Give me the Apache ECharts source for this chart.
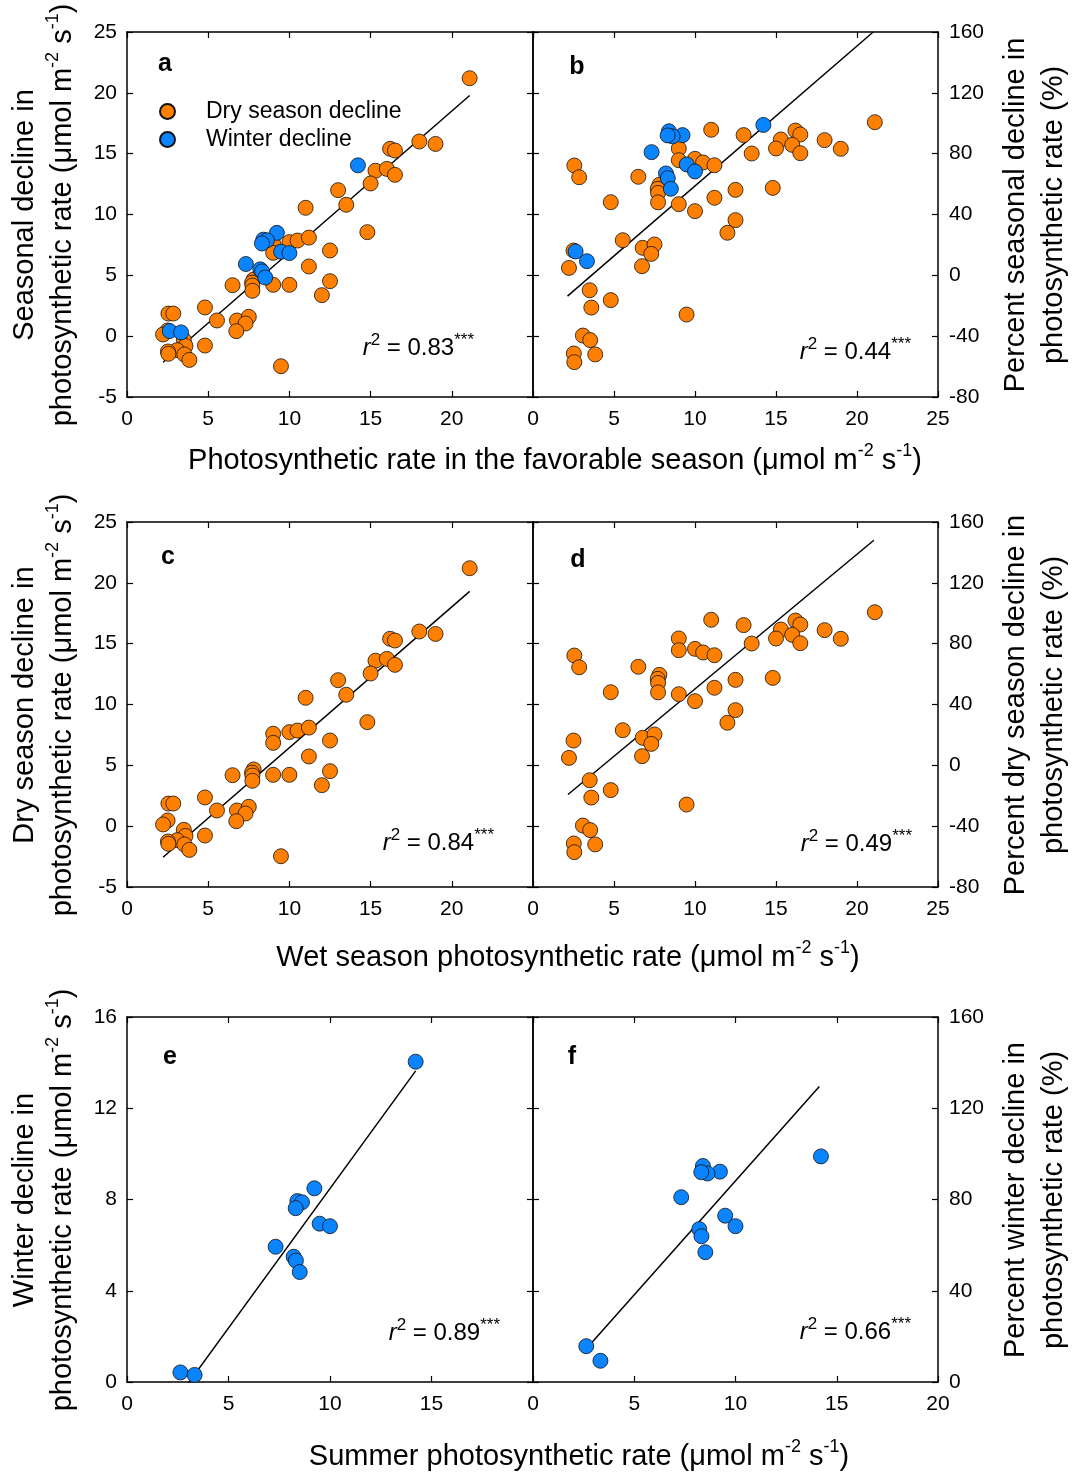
<!DOCTYPE html>
<html>
<head>
<meta charset="utf-8">
<script src="https://cdn.jsdelivr.net/npm/echarts@6/dist/echarts.min.js"></script>
<style>
  html, body { margin: 0; padding: 0; background: #fff; }
  #chart { width: 1084px; height: 1475px; }
</style>
</head>
<body>
<div id="chart"></div>
<script>
// dry season points (wet season rate, decline, percent decline)
var dryRate = [21.1, 18.0, 19.0, 16.2, 16.5, 15.3, 16.0, 16.5, 15.0, 13.0, 13.5, 11.0, 14.8,
  9.0, 9.0, 10.0, 10.5, 11.2, 12.5, 11.2, 12.5, 12.0, 10.0, 9.0, 6.5, 7.8, 7.7, 7.72, 7.72,
  4.8, 5.54, 6.77, 7.5, 7.3, 6.73, 2.55, 2.85, 2.5, 2.22, 3.5, 3.6, 4.8, 3.08, 3.53, 2.52,
  2.55, 3.84, 9.48];
var dryDecline = [21.2, 16.0, 15.8, 15.4, 15.26, 13.6, 13.75, 13.26, 12.55, 12.0, 10.8, 10.55, 8.55,
  7.6, 6.85, 7.73, 7.86, 8.1, 7.04, 5.73, 4.52, 3.37, 4.22, 4.22, 4.19, 4.66, 4.4, 4.16, 3.73,
  2.36, 1.29, 1.29, 1.59, 1.04, 0.41, 1.86, 1.86, 0.47, 0.14, -0.3, -0.8, -0.77, -1.15, -1.5, -1.26,
  -1.45, -1.95, -2.47];
var dryPercent = [100.7, 88.9, 83.2, 95.2, 92.6, 89.3, 85.8, 80.3, 83.4, 92.2, 80.1, 95.7, 57.5,
  83.4, 75.7, 76.6, 74.2, 72.4, 56.2, 51, 36.3, 28, 42.2, 46.8, 64.8, 59.5, 56.9, 54.2, 48,
  48.1, 23.1, 18.1, 20.3, 14.1, 6, 72.2, 64.5, 16.3, 4.9, -9.8, -21.2, -16.3, -39.6, -42.6, -51.4,
  -57.1, -52, -25.8];

// winter points (summer rate, decline, percent decline)
var winterRate = [14.22, 9.23, 8.39, 8.62, 8.31, 9.49, 10.0, 7.32, 8.21, 8.32, 8.51, 2.63, 3.33];
var winterDecline = [14.04, 8.49, 7.93, 7.88, 7.62, 6.94, 6.83, 5.93, 5.49, 5.32, 4.82, 0.42, 0.31];
var winterPercent = [98.9, 92.2, 94.7, 91.4, 92, 72.9, 68.3, 81, 67, 63.9, 56.9, 15.7, 9.3];

// fitted regression lines, [start, end] in data units
var fitA = [[2.22, -2.14], [21.1, 19.78]];
var fitB = [[2.13, -13.7], [21.0, 160]];
var fitC = [[2.22, -2.55], [21.1, 19.3]];
var fitD = [[2.16, -19.2], [21.04, 148]];
var fitE = [[2.63, -0.53], [14.22, 13.64]];
var fitF = [[2.6, 14.2], [14.14, 129.5]];

var r2Values = ["0.83", "0.44", "0.84", "0.49", "0.89", "0.66"];
var panelLetters = ["a", "b", "c", "d", "e", "f"];

// axis ranges [min, max, interval]
var xRangeTop = [0, 25, 5];
var xRangeBottom = [0, 20, 5];
var declineRange = [-5, 25, 5];
var winterDeclineRange = [0, 16, 4];
var percentRange = [-80, 160, 40];
var winterPercentRange = [0, 160, 40];

var FONT = '"Liberation Sans", Arial, sans-serif';
var ORANGE = "#ff8000";
var BLUE = "#0a84ff";

function zip(xs, ys) {
  return xs.map(function (x, i) {
    return [x, ys[i]];
  });
}

var grids = [
  { left: 127, top: 32, width: 406, height: 365 },
  { left: 533, top: 32, width: 405, height: 365 },
  { left: 127, top: 522, width: 406, height: 365 },
  { left: 533, top: 522, width: 405, height: 365 },
  { left: 127, top: 1017, width: 406, height: 365 },
  { left: 533, top: 1017, width: 405, height: 365 },
];
var xRanges = [xRangeTop, xRangeTop, xRangeTop, xRangeTop, xRangeBottom, xRangeBottom];
var yRanges = [declineRange, percentRange, declineRange, percentRange, winterDeclineRange, winterPercentRange];

var axisLine = { show: true, onZero: false, lineStyle: { color: "#000", width: 1.5 } };
var axisTick = { show: true, inside: true, length: 6, lineStyle: { color: "#000", width: 1.2 } };

var xAxes = [];
var yAxes = [];
grids.forEach(function (g, i) {
  var xr = xRanges[i];
  var yr = yRanges[i];
  var isLeft = i % 2 === 0;
  xAxes.push({
    type: "value", gridIndex: i, position: "bottom",
    min: xr[0], max: xr[1], interval: xr[2],
    axisLine: axisLine, axisTick: axisTick, splitLine: { show: false },
    axisLabel: {
      show: true, color: "#000", fontSize: 21, fontFamily: FONT, margin: 12,
      showMaxLabel: !isLeft,
    },
  });
  xAxes.push({
    type: "value", gridIndex: i, position: "top",
    min: xr[0], max: xr[1], interval: xr[2],
    axisLine: axisLine, axisTick: axisTick, splitLine: { show: false },
    axisLabel: { show: false },
  });
  yAxes.push({
    type: "value", gridIndex: i, position: "left",
    min: yr[0], max: yr[1], interval: yr[2],
    axisLine: axisLine, axisTick: axisTick, splitLine: { show: false },
    axisLabel: { show: isLeft, color: "#000", fontSize: 21, fontFamily: FONT, margin: 10 },
  });
  yAxes.push({
    type: "value", gridIndex: i, position: "right",
    min: yr[0], max: yr[1], interval: yr[2],
    axisLine: axisLine, axisTick: axisTick, splitLine: { show: false },
    axisLabel: { show: !isLeft, color: "#000", fontSize: 21, fontFamily: FONT, margin: 11 },
  });
});

function scatter(name, color, gi, data) {
  return {
    name: name, type: "scatter",
    xAxisIndex: gi * 2, yAxisIndex: gi * 2 + (gi % 2),
    data: data, symbol: "circle", symbolSize: 15,
    itemStyle: { color: color, borderColor: "#111", borderWidth: 0.8, opacity: 1 },
    emphasis: { disabled: true }, silent: true, z: color === BLUE ? 4 : 3,
  };
}

function fitLine(gi, data) {
  return {
    name: "fit" + gi, type: "line",
    xAxisIndex: gi * 2, yAxisIndex: gi * 2 + (gi % 2),
    data: data, symbol: "none", silent: true,
    lineStyle: { color: "#000", width: 1.5 }, z: 2,
  };
}

var series = [
  fitLine(0, fitA),
  scatter("Dry season decline", ORANGE, 0, zip(dryRate, dryDecline)),
  scatter("Winter decline", BLUE, 0, zip(winterRate, winterDecline)),
  fitLine(1, fitB),
  scatter("Dry season decline", ORANGE, 1, zip(dryRate, dryPercent)),
  scatter("Winter decline", BLUE, 1, zip(winterRate, winterPercent)),
  fitLine(2, fitC),
  scatter("Dry season decline", ORANGE, 2, zip(dryRate, dryDecline)),
  fitLine(3, fitD),
  scatter("Dry season decline", ORANGE, 3, zip(dryRate, dryPercent)),
  fitLine(4, fitE),
  scatter("Winter decline", BLUE, 4, zip(winterRate, winterDecline)),
  fitLine(5, fitF),
  scatter("Winter decline", BLUE, 5, zip(winterRate, winterPercent)),
];

var titleRich = {
  n: { fontFamily: FONT, fontSize: 29, lineHeight: 38, color: "#000" },
  s: { fontFamily: FONT, fontSize: 18, lineHeight: 22, verticalAlign: "top", color: "#000" },
};
var unit = "{n|(μmol m}{s|-2}{n| s}{s|-1}{n|)}";

function label(x, y, text, rotate) {
  return {
    type: "text", x: x, y: y, rotation: rotate ? Math.PI / 2 : 0, silent: true,
    style: { text: text, rich: titleRich, align: "center", verticalAlign: "middle" },
  };
}

var letterPos = [[165, 64], [577, 67], [168, 557], [578, 560], [170, 1057], [572, 1057]];
var r2Pos = [[474, 348], [911, 352], [494, 843], [912, 844], [500, 1333], [911, 1332]];
var r2Rich = {
  i: { fontFamily: FONT, fontSize: 24, fontStyle: "italic", lineHeight: 32, color: "#000" },
  n: { fontFamily: FONT, fontSize: 24, lineHeight: 32, color: "#000" },
  s: { fontFamily: FONT, fontSize: 17, lineHeight: 20, verticalAlign: "top", color: "#000" },
};

var graphics = [];
panelLetters.forEach(function (l, i) {
  graphics.push({
    type: "text", x: letterPos[i][0], y: letterPos[i][1], silent: true,
    style: {
      text: l, font: "bold 25px " + FONT, fill: "#000",
      align: "center", verticalAlign: "middle",
    },
  });
  graphics.push({
    type: "text", x: r2Pos[i][0], y: r2Pos[i][1], silent: true,
    style: {
      text: "{i|r}{s|2}{n| = " + r2Values[i] + "}{s|***}", rich: r2Rich,
      align: "right", verticalAlign: "middle",
    },
  });
});

graphics.push(label(555, 461, "{n|Photosynthetic rate in the favorable season }" + unit, false));
graphics.push(label(568, 958, "{n|Wet season photosynthetic rate }" + unit, false));
graphics.push(label(579, 1457, "{n|Summer photosynthetic rate }" + unit, false));

graphics.push(label(44, 215, "{n|Seasonal decline in}\n{n|photosynthetic rate }" + unit, true));
graphics.push(label(44, 705, "{n|Dry season decline in}\n{n|photosynthetic rate }" + unit, true));
graphics.push(label(44, 1200, "{n|Winter decline in}\n{n|photosynthetic rate }" + unit, true));

graphics.push(label(1035, 215, "{n|Percent seasonal decline in}\n{n|photosynthetic rate (%)}", true));
graphics.push(label(1035, 705, "{n|Percent dry season decline in}\n{n|photosynthetic rate (%)}", true));
graphics.push(label(1035, 1200, "{n|Percent winter decline in}\n{n|photosynthetic rate (%)}", true));

var chart = echarts.init(document.getElementById("chart"), null, { renderer: "canvas" });
chart.setOption({
  backgroundColor: "#fff",
  animation: false,
  grid: grids,
  xAxis: xAxes,
  yAxis: yAxes,
  legend: {
    data: ["Dry season decline", "Winter decline"],
    orient: "vertical", left: 154, top: 95,
    itemWidth: 15, itemHeight: 15, itemGap: 5,
    icon: "circle", selectedMode: false,
    textStyle: { color: "#000", fontSize: 23, fontFamily: FONT, padding: [0, 0, 0, 26] },
  },
  series: series,
  graphic: graphics,
});
</script>
</body>
</html>
